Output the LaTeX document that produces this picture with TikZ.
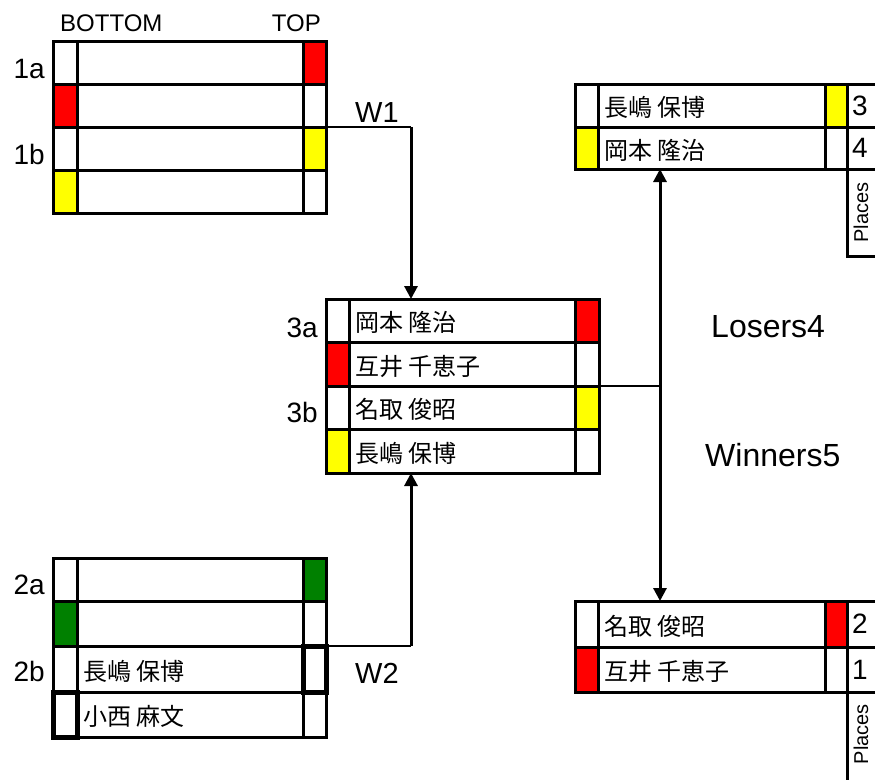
\documentclass[tikz,border=0pt]{standalone}
\usepackage{fontspec}
\setmainfont{Liberation Sans}
\newfontfamily\jpfont{Noto Sans CJK JP}
\usetikzlibrary{arrows.meta,calc}
\definecolor{cgreen}{RGB}{0,128,0}
\definecolor{cred}{RGB}{255,0,0}
\definecolor{cyellow}{RGB}{255,255,0}
\def\cwl{24}\def\cwm{226}\def\cwr{23}
\tikzset{
  cellbox/.style={draw, line width=3pt, inner sep=0pt, outer sep=0pt, anchor=north west},
  nametext/.style={font=\jpfont\fontsize{24}{28}\selectfont, anchor=west, inner sep=0pt},
  rowlab/.style={font=\fontsize{28}{30}\selectfont, inner sep=0pt, anchor=base east},
  headlab/.style={font=\fontsize{24}{26}\selectfont, inner sep=0pt},
  wlab/.style={font=\fontsize{29}{31}\selectfont, inner sep=0pt, anchor=base west},
  biglab/.style={font=\fontsize{32}{34}\selectfont, inner sep=0pt, anchor=base west},
  placecell/.style={cellbox, align=left, text width=28pt, inner xsep=5pt, minimum width=38pt, font=\fontsize{28}{30}\selectfont},
  placetxt/.style={font=\fontsize{20}{22}\selectfont, inner sep=0pt, rotate=90},
  thinline/.style={line width=1.5pt},
  upline/.style={line width=3pt, -{Triangle[length=13pt,width=13pt]}},
  dblline/.style={line width=3pt, {Triangle[length=13pt,width=13pt]}-{Triangle[length=13pt,width=13pt]}},
  hilite/.style={line width=5pt}
}
\newcommand\brow[7]{%
  \node[cellbox, minimum width=\cwl pt, minimum height=#4pt, fill=#5] (#1L) at (#2,#3) {};
  \node[cellbox, fill=white, minimum width=\cwm pt, minimum height=#4pt] (#1M) at (#1L.north east) {};
  \node[cellbox, minimum width=\cwr pt, minimum height=#4pt, fill=#6] (#1R) at (#1M.north east) {};
  \node[nametext] (#1T) at ([xshift=6pt,yshift=-2pt]#1M.west) {#7};
}
\begin{document}
\begin{tikzpicture}[x=1pt,y=-1pt]
\useasboundingbox (0,0) rectangle (875,779);
\clip (0,0) rectangle (875,779);

% headers
\node[headlab, anchor=base west] (hbot) at (60,31) {BOTTOM};
\node[headlab, anchor=base east] (htop) at (321,31) {TOP};

% block 1
\def\cwl{24}\def\cwm{226}\def\cwr{23}
\brow{ba}{53}{41}{43}{white}{cred}{}
\brow{bb}{53}{84}{43}{cred}{white}{}
\brow{bc}{53}{127}{43}{white}{cyellow}{}
\brow{bd}{53}{170}{43}{cyellow}{white}{}
\node[rowlab] (l1a) at (45,78.5) {1a};
\node[rowlab] (l1b) at (45,164.5) {1b};

% block 2
\brow{ca}{53}{558}{43}{white}{cgreen}{}
\brow{cb}{53}{601}{45}{cgreen}{white}{}
\brow{cc}{53}{646}{46}{white}{white}{長嶋 保博}
\brow{cd}{53}{692}{45}{white}{white}{小西 麻文}
\draw[hilite] (ccR.north west) rectangle (ccR.south east);
\draw[hilite] (cdL.north west) rectangle (cdL.south east);
\node[rowlab] (l2a) at (45,594) {2a};
\node[rowlab] (l2b) at (45,681) {2b};

% block 3
\def\cwl{23}\def\cwm{226}\def\cwr{24}
\brow{ma}{326}{299}{43}{white}{cred}{岡本 隆治}
\brow{mb}{326}{342}{44}{cred}{white}{互井 千恵子}
\brow{mc}{326}{386}{43}{white}{cyellow}{名取 俊昭}
\brow{md}{326}{429}{44}{cyellow}{white}{長嶋 保博}
\node[rowlab] (l3a) at (318,337) {3a};
\node[rowlab] (l3b) at (318,422) {3b};

% block 4 (top right)
\def\cwl{23}\def\cwm{227}\def\cwr{22}
\brow{ra}{575}{84}{43}{white}{cyellow}{長嶋 保博}
\brow{rb}{575}{127}{42}{cyellow}{white}{岡本 隆治}
\node[placecell, minimum height=43pt] (p3) at (raR.north east) {3};
\node[placecell, minimum height=42pt] (p4) at (rbR.north east) {4};
\node[cellbox, minimum width=38pt, minimum height=87pt] (plt) at (p4.south west) {};
\node[placetxt] (plttxt) at ([xshift=-5pt]plt.center) {Places};

% block 5 (bottom right)
\brow{sa}{575}{601}{46}{white}{cred}{名取 俊昭}
\brow{sb}{575}{647}{45}{cred}{white}{互井 千恵子}
\node[placecell, minimum height=46pt] (p2) at (saR.north east) {2};
\node[placecell, minimum height=45pt] (p1) at (sbR.north east) {1};
\node[cellbox, minimum width=38pt, minimum height=110pt] (plb) at (p1.south west) {};
\node[placetxt] (plbtxt) at ([xshift=-5pt]plb.north |- 0,734) {Places};

% labels
\node[wlab] (tw1) at (355,122) {W1};
\node[wlab] (tw2) at (355,683) {W2};
\node[biglab] (tlos) at (711,337) {Losers4};
\node[biglab] (twin) at (705,466) {Winners5};

% connectors
\coordinate (w1c) at ($(bcR.north east)+(85,0)$);
\draw[thinline] (bcR.north east) -- (w1c);
\draw[upline] (w1c) -- (w1c |- maM.north);

\coordinate (w2c) at ($(ccR.north east)+(85,0)$);
\draw[thinline] (ccR.north east) -- (w2c);
\draw[upline] (w2c) -- (w2c |- mdM.south);

\coordinate (vc) at ($(mcR.north east)+(61,0)$);
\draw[thinline] (mcR.north east) -- (vc);
\draw[dblline] (vc |- rbM.south) -- (vc |- saM.north);
\end{tikzpicture}
\end{document}
